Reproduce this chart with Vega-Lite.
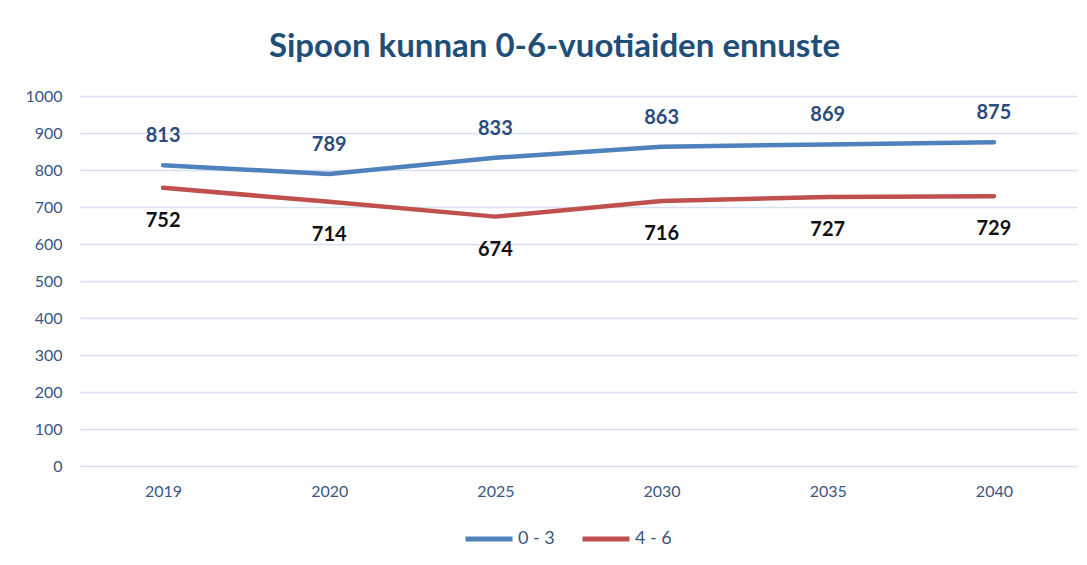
{
  "$schema": "https://vega.github.io/schema/vega-lite/v6.json",
  "width": 997,
  "height": 370,
  "autosize": "none",
  "padding": {"left": 80, "top": 96, "right": 10, "bottom": 99},
  "background": "white",
  "title": {
    "text": "Sipoon kunnan 0-6-vuotiaiden ennuste",
    "font": "Lato",
    "fontSize": 33,
    "fontWeight": "bold",
    "color": "#1F4E79",
    "offset": 24,
    "dx": -24
  },
  "config": {
    "view": {"stroke": null},
    "font": "Lato"
  },
  "data": {
    "values": [
      {"year": "2019", "group": "0 - 3", "value": 813},
      {"year": "2020", "group": "0 - 3", "value": 789},
      {"year": "2025", "group": "0 - 3", "value": 833},
      {"year": "2030", "group": "0 - 3", "value": 863},
      {"year": "2035", "group": "0 - 3", "value": 869},
      {"year": "2040", "group": "0 - 3", "value": 875},
      {"year": "2019", "group": "4 - 6", "value": 752},
      {"year": "2020", "group": "4 - 6", "value": 714},
      {"year": "2025", "group": "4 - 6", "value": 674},
      {"year": "2030", "group": "4 - 6", "value": 716},
      {"year": "2035", "group": "4 - 6", "value": 727},
      {"year": "2040", "group": "4 - 6", "value": 729}
    ]
  },
  "encoding": {
    "x": {
      "field": "year",
      "type": "nominal",
      "sort": null,
      "axis": {
        "title": null,
        "labelAngle": 0,
        "domain": false,
        "ticks": false,
        "labelFont": "Lato",
        "labelFontSize": 16,
        "labelColor": "#3A5683",
        "labelPadding": 17
      }
    },
    "y": {
      "field": "value",
      "type": "quantitative",
      "scale": {"domain": [0, 1000], "nice": false},
      "axis": {
        "title": null,
        "values": [0, 100, 200, 300, 400, 500, 600, 700, 800, 900, 1000],
        "format": "d",
        "domain": false,
        "ticks": false,
        "gridColor": "#D6E0F0",
        "gridWidth": 1.5,
        "labelFont": "Lato",
        "labelFontSize": 16,
        "labelColor": "#3A5683",
        "labelPadding": 18
      }
    }
  },
  "layer": [
    {
      "mark": {"type": "line", "strokeWidth": 4.5, "strokeCap": "round", "strokeJoin": "round"},
      "encoding": {
        "color": {
          "field": "group",
          "type": "nominal",
          "scale": {"domain": ["0 - 3", "4 - 6"], "range": ["#4F81BD", "#C0504D"]},
          "legend": {
            "title": null,
            "orient": "none",
            "legendX": 383,
            "legendY": 417,
            "direction": "horizontal",
            "symbolType": "stroke",
            "symbolSize": 2209,
            "symbolStrokeWidth": 5,
            "labelFont": "Lato",
            "labelFontSize": 18,
            "labelColor": "#3A5683",
            "labelOffset": 3,
            "columnPadding": 17
          }
        }
      }
    },
    {
      "transform": [{"filter": "datum.group === '0 - 3'"}],
      "mark": {"type": "text", "dy": -29, "fontSize": 20, "fontWeight": "bold", "color": "#2B4C7E", "font": "Lato"},
      "encoding": {"text": {"field": "value", "type": "quantitative"}}
    },
    {
      "transform": [{"filter": "datum.group === '4 - 6'"}],
      "mark": {"type": "text", "dy": 33, "fontSize": 20, "fontWeight": "bold", "color": "#111111", "font": "Lato"},
      "encoding": {"text": {"field": "value", "type": "quantitative"}}
    }
  ]
}
